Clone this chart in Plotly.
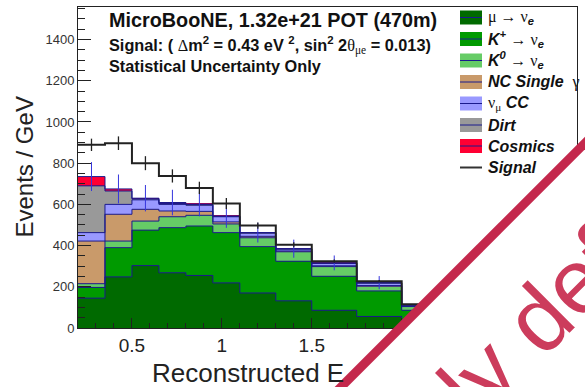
import plotly.graph_objects as go

# ---------------- data ----------------
bin_edges = [0.2, 0.35, 0.5, 0.65, 0.8, 0.95, 1.1, 1.3, 1.5, 1.75, 2.0, 3.0]
mu_to_nue = [145, 248, 303, 268, 255, 219, 170, 132, 86, 56, 24]
kplus_to_nue = [52, 142, 172, 219, 240, 244, 225, 192, 165, 124, 62]
kzero_to_nue = [18, 32, 44, 53, 52, 42, 43, 46, 47, 23, 18]
nc_single_gamma = [207, 130, 57, 28, 19, 10, 7, 4, 4, 3, 2]
numu_cc = [41, 48, 46, 32, 30, 25, 16, 9, 12, 12, 5]
dirt = [227, 65, 5, 4, 3, 2, 1, 1, 1, 1, 1]
cosmics = [45, 10, 3, 5, 3, 2, 1, 1, 1, 1, 0]
signal_line = [889, 897, 800, 738, 680, 604, 497, 404, 324, 227, 115]
signal_err = [30, 33, 34, 32, 30, 27, 15, 12, 8, 6, 3]
background_err = [70, 70, 64, 62, 60, 58, 48, 44, 36, 32, 11]

component_names = ["mu", "kplus", "kzero", "nc", "numucc", "dirt", "cosmics"]
component_values = [mu_to_nue, kplus_to_nue, kzero_to_nue, nc_single_gamma, numu_cc, dirt, cosmics]
component_colors = ["#006a00", "#009a00", "#66cc66", "#c99a6a", "#9999ff", "#999999", "#ff0033"]

SERIF = "font-family:Liberation Serif"
legend_labels = [
    '<span style="%s">μ → ν</span><sub><b><i>e</i></b></sub>' % SERIF,
    '<b><i>K</i></b><sup><b><i>+</i></b></sup> <span style="%s">→ ν</span><sub><b><i>e</i></b></sub>' % SERIF,
    '<b><i>K</i></b><sup><b><i>0</i></b></sup> <span style="%s">→ ν</span><sub><b><i>e</i></b></sub>' % SERIF,
    '<b><i>NC Single</i></b>  <span style="%s">γ</span>' % SERIF,
    '<span style="%s">ν</span><sub><span style="%s">μ</span></sub> <b><i>CC</i></b>' % (SERIF, SERIF),
    '<b><i>Dirt</i></b>',
    '<b><i>Cosmics</i></b>',
    '<b><i>Signal</i></b>',
]

header_lines = [
    "<b>MicroBooNE, 1.32e+21 POT (470m)</b>",
    '<b>Signal: ( </b><span style="%s">Δ</span><b>m<sup>2</sup> = 0.43 eV <sup>2</sup>, sin<sup>2</sup> 2</b>'
    '<span style="%s">θ</span><sub><span style="%s">μe</span></sub><b> = 0.013)</b>' % (SERIF, SERIF, SERIF),
    "<b>Statistical Uncertainty Only</b>",
]

y_tick_values = [0, 200, 400, 600, 800, 1000, 1200, 1400]

# ---------------- geometry helpers ----------------
W, H = 585, 387
ML, MR, MT, MB = 78, 8, 7, 59
PW, PH = W - ML - MR, H - MT - MB


def px(xpix):
    return (xpix - ML) / PW


def py(ypix):
    return (H - MB - ypix) / PH


centers = [(a + b) / 2 for a, b in zip(bin_edges[:-1], bin_edges[1:])]
widths = [b - a for a, b in zip(bin_edges[:-1], bin_edges[1:])]

fig = go.Figure()

# stacked filled histograms
for name, vals, col in zip(component_names, component_values, component_colors):
    fig.add_trace(go.Bar(x=centers, y=vals, width=widths, marker=dict(color=col, line=dict(width=0)),
                         name=name, showlegend=False, hoverinfo="skip"))

# navy step outlines of the stack
cum = [0] * len(centers)
for vals in component_values:
    cum = [c + v for c, v in zip(cum, vals)]
    fig.add_trace(go.Scatter(x=bin_edges, y=cum + [cum[-1]], mode="lines", line=dict(color="#1a1a8c", width=1, shape="hv"),
                             showlegend=False, hoverinfo="skip"))

# background statistical error bars (blue)
fig.add_trace(go.Scatter(x=centers, y=cum, mode="markers", marker=dict(size=0.1, color="rgba(0,0,0,0)"),
                         error_y=dict(type="data", array=background_err, color="#3535dd", thickness=1, width=0),
                         showlegend=False, hoverinfo="skip"))

# signal line (black step) and its error bars
fig.add_trace(go.Scatter(x=bin_edges, y=signal_line + [signal_line[-1]], mode="lines",
                         line=dict(color="#222222", width=2, shape="hv"), showlegend=False, hoverinfo="skip"))
fig.add_trace(go.Scatter(x=centers, y=signal_line, mode="markers", marker=dict(size=0.1, color="rgba(0,0,0,0)"),
                         error_y=dict(type="data", array=signal_err, color="#222222", thickness=1.3, width=0),
                         showlegend=False, hoverinfo="skip"))

shapes = []
annotations = []

# header text
for txt, fs, yc in zip(header_lines, [19.8, 16.3, 16.3], [20, 45, 66.5]):
    annotations.append(dict(x=px(107), y=py(yc), xref="paper", yref="paper", xanchor="left", yanchor="middle",
                            text=txt, showarrow=False, font=dict(size=fs, color="#111111", family="Liberation Sans")))

# legend drawn by hand (ROOT style)
row_y = [17.5, 39, 60.5, 82, 103.5, 125, 146, 167.5]
bx0, bx1 = 460, 482
for i, lab in enumerate(legend_labels):
    yc = row_y[i]
    if i < len(component_colors):
        shapes.append(dict(type="rect", xref="paper", yref="paper", x0=px(bx0), x1=px(bx1), y0=py(yc + 7), y1=py(yc - 7),
                           fillcolor=component_colors[i], line=dict(width=0), layer="above"))
        shapes.append(dict(type="line", xref="paper", yref="paper", x0=px(bx0), x1=px(bx1), y0=py(yc), y1=py(yc),
                           line=dict(color="#1a1a8c", width=1), layer="above"))
    else:
        shapes.append(dict(type="line", xref="paper", yref="paper", x0=px(bx0), x1=px(bx1), y0=py(yc), y1=py(yc),
                           line=dict(color="#333333", width=2), layer="above"))
    annotations.append(dict(x=px(486), y=py(yc), xref="paper", yref="paper", xanchor="left", yanchor="middle",
                            text=lab, showarrow=False, font=dict(size=16, color="#111111", family="Liberation Sans")))

# axis titles
annotations.append(dict(x=px(24), y=py(167.5), xref="paper", yref="paper", xanchor="center", yanchor="middle",
                        text="Events / GeV", textangle=-90, showarrow=False,
                        font=dict(size=24, color="#222222", family="Liberation Sans")))
annotations.append(dict(x=px(150), y=py(373), xref="paper", yref="paper", xanchor="left", yanchor="middle",
                        text="Reconstructed E", showarrow=False,
                        font=dict(size=26, color="#222222", family="Liberation Sans")))

# watermark: white cover beyond the diagonal, red stroke, red text
p = [(323, 405), (603, 125), (603, 405)]
path = "M {} {} L {} {} L {} {} Z".format(px(p[0][0]), py(p[0][1]), px(p[1][0]), py(p[1][1]), px(p[2][0]), py(p[2][1]))
shapes.append(dict(type="path", xref="paper", yref="paper", path=path, fillcolor="white", line=dict(width=0), layer="above"))
shapes.append(dict(type="line", xref="paper", yref="paper", x0=px(323), y0=py(405), x1=px(603), y1=py(125),
                   line=dict(color="#c4284c", width=9), layer="above"))
annotations.append(dict(x=px(533), y=py(324), xref="paper", yref="paper", xanchor="center", yanchor="middle",
                        text="ly def", textangle=-45, showarrow=False,
                        font=dict(size=92, color="#cc3c5c", family="Liberation Sans")))

fig.update_layout(
    width=W, height=H, margin=dict(l=ML, r=MR, t=MT, b=MB, pad=0),
    paper_bgcolor="white", plot_bgcolor="white",
    barmode="stack", bargap=0, showlegend=False,
    shapes=shapes, annotations=annotations,
    xaxis=dict(range=[0.2, 2.975], showline=True, linecolor="#222222", linewidth=1, mirror=True,
               ticks="inside", ticklen=10, tickwidth=1, tickcolor="#222222", tick0=0, dtick=0.5,
               minor=dict(ticks="inside", ticklen=5, tickcolor="#222222", dtick=0.1, tick0=0),
               showgrid=False, zeroline=False, tickfont=dict(size=19, color="#222222", family="Liberation Sans")),
    yaxis=dict(range=[0, 1558], showline=True, linecolor="#222222", linewidth=1, mirror=True,
               ticks="inside", ticklen=13, tickwidth=1, tickcolor="#222222", tickvals=y_tick_values,
               minor=dict(ticks="inside", ticklen=7, tickcolor="#222222", dtick=50, tick0=0),
               showgrid=False, zeroline=False, tickfont=dict(size=13, color="#333333", family="Liberation Sans")),
)

fig.write_html("out.html")
